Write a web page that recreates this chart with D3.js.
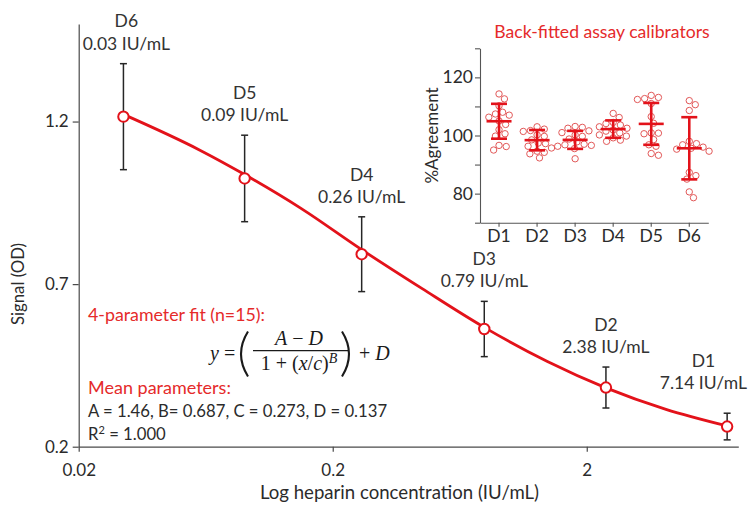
<!DOCTYPE html>
<html>
<head>
<meta charset="utf-8">
<script src="https://cdn.jsdelivr.net/npm/d3@7"></script>
<style>
body { margin: 0; background: #fff; }
svg text { font-family: Lato, "Open Sans", sans-serif; }
.serif { font-family: "Liberation Serif", "DejaVu Serif", serif !important; }
</style>
</head>
<body>
<div id="chart"></div>
<script>
// main calibration curve
var doses = ["D6", "D5", "D4", "D3", "D2", "D1"];
var conc = [0.03, 0.09, 0.26, 0.79, 2.38, 7.14];
var signal = [1.215, 1.025, 0.792, 0.562, 0.382, 0.262];
var signalSd = [0.163, 0.133, 0.115, 0.085, 0.063, 0.041];
var fitConc = [0.03, 0.06, 0.09, 0.15, 0.26, 0.45, 0.79, 1.4, 2.38, 4.1, 7.14];
var fitSignal = [1.222, 1.112, 1.037, 0.933, 0.806, 0.686, 0.567, 0.462, 0.381, 0.315, 0.264];
var xTicks = [0.02, 0.2, 2];
var yTicks = [0.2, 0.7, 1.2];

// inset: back-fitted calibrators, % agreement (n=15 each)
var calibrators = ["D1", "D2", "D3", "D4", "D5", "D6"];
var agreeD1 = [114.3, 112.6, 110.2, 108.0, 107.4, 107.0, 106.3, 105.0, 103.8, 102.0, 100.6, 99.8, 96.6, 96.2, 95.0];
var agreeD2 = [103.0, 102.2, 101.7, 101.4, 100.2, 99.7, 98.5, 97.4, 97.2, 96.3, 95.7, 94.6, 94.2, 93.7, 92.3];
var agreeD3 = [103.1, 102.8, 102.5, 101.6, 101.0, 100.2, 99.7, 98.8, 97.8, 97.0, 96.8, 96.6, 96.3, 95.5, 92.0];
var agreeD4 = [107.6, 106.2, 104.5, 104.1, 103.6, 103.0, 102.5, 101.9, 101.5, 100.9, 100.2, 99.8, 99.2, 98.4, 98.0];
var agreeD5 = [113.8, 113.1, 112.7, 112.4, 111.0, 106.5, 104.2, 100.9, 100.8, 100.6, 98.6, 96.8, 96.3, 93.8, 93.2];
var agreeD6 = [112.0, 110.6, 108.6, 98.0, 97.2, 96.8, 96.0, 95.6, 95.3, 94.6, 87.3, 86.2, 85.0, 80.6, 78.6];
var agreeMean = [104.9, 98.4, 98.5, 102.2, 104.0, 95.6];
var agreeSd = [6.0, 3.5, 3.1, 3.0, 7.2, 10.7];
var agreeTicks = [70, 80, 90, 100, 110, 120, 130];
var agreeLabels = [80, 100, 120];

var W = 749, H = 506;
var red = "#e3121a", textRed = "#e52a2a", ink = "#2b2b2b";

var svg = d3.select("#chart").append("svg")
	.attr("width", W)
	.attr("height", H);

// ---- main chart ----
var x = d3.scaleLog().domain([0.02, 7.9]).range([78.7, 738.3]);
var y = d3.scaleLinear().domain([0.2, 1.5]).range([446.7, 24]);

var gx = svg.append("g")
	.attr("transform", "translate(0," + y(0.2) + ")")
	.call(d3.axisBottom(x).tickValues(xTicks).tickFormat(function(d){ return d; })
		.tickSize(5).tickSizeOuter(0).tickPadding(12));
var gy = svg.append("g")
	.attr("transform", "translate(" + x(0.02) + ",0)")
	.call(d3.axisLeft(y).tickValues(yTicks).tickFormat(d3.format(".1f"))
		.tickSize(6).tickSizeOuter(0).tickPadding(4));
[gx, gy].forEach(function(g){
	g.selectAll("path, line").attr("stroke", "#4a4a4a").attr("stroke-width", 1.2);
	g.selectAll("text").attr("font-size", 17).attr("fill", ink).attr("font-family", "Lato");
});

svg.append("text")
	.attr("x", 399.5).attr("y", 499)
	.attr("text-anchor", "middle")
	.attr("font-size", 18.6).attr("fill", ink)
	.text("Log heparin concentration (IU/mL)");
svg.append("text")
	.attr("transform", "translate(24,284) rotate(-90)")
	.attr("text-anchor", "middle")
	.attr("font-size", 16.8).attr("fill", ink)
	.text("Signal (OD)");

// error bars
var pts = doses.map(function(d, i){
	return { name: d, c: conc[i], s: signal[i], sd: signalSd[i] };
});
var bars = svg.append("g").attr("stroke", "#262626").attr("stroke-width", 1.5);
pts.forEach(function(p){
	var cx = x(p.c);
	bars.append("line").attr("x1", cx).attr("x2", cx).attr("y1", y(p.s + p.sd)).attr("y2", y(p.s - p.sd));
	[p.s + p.sd, p.s - p.sd].forEach(function(v){
		bars.append("line").attr("x1", cx - 3.5).attr("x2", cx + 3.5).attr("y1", y(v)).attr("y2", y(v));
	});
});

// fitted curve
var fit = fitConc.map(function(c, i){ return [c, fitSignal[i]]; });
svg.append("path")
	.datum(fit)
	.attr("fill", "none")
	.attr("stroke", red)
	.attr("stroke-width", 2.8)
	.attr("d", d3.line().x(function(d){ return x(d[0]); }).y(function(d){ return y(d[1]); }).curve(d3.curveMonotoneX));

svg.selectAll(".pt")
	.data(pts)
	.enter().append("circle")
	.attr("class", "pt")
	.attr("cx", function(d){ return x(d.c); })
	.attr("cy", function(d){ return y(d.s); })
	.attr("r", 5.2)
	.attr("fill", "#fff")
	.attr("stroke", red)
	.attr("stroke-width", 2);

// dose labels above each error bar
pts.forEach(function(p){
	var lbl = svg.append("text")
		.attr("text-anchor", "middle")
		.attr("font-size", 17.5)
		.attr("fill", "#333");
	var l1 = lbl.append("tspan").text(p.name);
	var l2 = lbl.append("tspan").text(p.c + " IU/mL");
	var w = l2.node().getComputedTextLength();
	var cx = x(p.c);
	var lift = 14;
	if (cx - w / 2 < x(0.02) + 4) cx = x(0.02) + 4 + w / 2;
	if (cx + w / 2 > W - 2) { cx = W - 2 - w / 2; lift = 24; }
	var base = y(p.s + p.sd) - lift;
	l1.attr("x", cx).attr("y", base - 22.3);
	l2.attr("x", cx).attr("y", base);
});

// fit annotation
svg.append("text").attr("x", 88).attr("y", 321).attr("font-size", 17.8).attr("fill", textRed)
	.text("4-parameter fit (n=15):");
svg.append("text").attr("x", 88).attr("y", 394.3).attr("font-size", 18).attr("fill", textRed)
	.text("Mean parameters:");
svg.append("text").attr("x", 88).attr("y", 416.7).attr("font-size", 16.7).attr("fill", ink)
	.text("A = 1.46, B= 0.687, C = 0.273, D = 0.137");
var r2 = svg.append("text").attr("x", 88).attr("y", 440).attr("font-size", 16.7).attr("fill", ink);
r2.append("tspan").text("R");
r2.append("tspan").attr("font-size", 11).attr("dy", -6).text("2");
r2.append("tspan").attr("dy", 6).text(" = 1.000");

// formula y = ((A - D) / (1 + (x/c)^B)) + D
var fm = svg.append("g").attr("fill", "#1a1a1a");
var t1 = fm.append("text").attr("class", "serif").attr("x", 210).attr("y", 360).attr("font-size", 20);
t1.append("tspan").attr("font-style", "italic").text("y");
t1.append("tspan").text(" =");
var num = fm.append("text").attr("class", "serif").attr("x", 299).attr("y", 345).attr("font-size", 20).attr("text-anchor", "middle");
num.append("tspan").attr("font-style", "italic").text("A");
num.append("tspan").text(" \u2212 ");
num.append("tspan").attr("font-style", "italic").text("D");
fm.append("line").attr("x1", 253).attr("x2", 348).attr("y1", 350.7).attr("y2", 350.7)
	.attr("stroke", "#1a1a1a").attr("stroke-width", 1.2);
var den = fm.append("text").attr("class", "serif").attr("x", 299).attr("y", 370).attr("font-size", 20).attr("text-anchor", "middle");
den.append("tspan").text("1 + (");
den.append("tspan").attr("font-style", "italic").text("x");
den.append("tspan").text("/");
den.append("tspan").attr("font-style", "italic").text("c");
den.append("tspan").text(")");
den.append("tspan").attr("font-style", "italic").attr("font-size", 14).attr("dy", -7).text("B");
fm.append("path").attr("d", "M248,331.5 Q234,354 248,376.5").attr("fill", "none").attr("stroke", "#1a1a1a").attr("stroke-width", 2.1);
fm.append("path").attr("d", "M342,331.5 Q356,354 342,376.5").attr("fill", "none").attr("stroke", "#1a1a1a").attr("stroke-width", 2.1);
var t2 = fm.append("text").attr("class", "serif").attr("x", 359).attr("y", 360).attr("font-size", 20);
t2.append("tspan").text("+ ");
t2.append("tspan").attr("font-style", "italic").text("D");

// ---- inset ----
var ix = d3.scaleBand().domain(calibrators).range([480, 708.3]);
var iy = d3.scaleLinear().domain([70, 130]).range([222.7, 48.3]);

var igx = svg.append("g")
	.attr("transform", "translate(0," + iy(70) + ")")
	.call(d3.axisBottom(ix).tickSize(4).tickSizeOuter(0).tickPadding(3));
var igy = svg.append("g")
	.attr("transform", "translate(" + ix.range()[0] + ",0)")
	.call(d3.axisLeft(iy).tickValues(agreeTicks)
		.tickFormat(function(d){ return agreeLabels.indexOf(d) >= 0 ? d : ""; })
		.tickSize(5).tickSizeOuter(0).tickPadding(2));
[igx, igy].forEach(function(g){
	g.selectAll("path, line").attr("stroke", "#555").attr("stroke-width", 1.1);
	g.selectAll("text").attr("font-size", 17.5).attr("fill", ink).attr("font-family", "Lato");
});

svg.append("text")
	.attr("x", 602).attr("y", 37.7)
	.attr("text-anchor", "middle")
	.attr("font-size", 17.6).attr("fill", textRed)
	.text("Back-fitted assay calibrators");
svg.append("text")
	.attr("transform", "translate(438,135.5) rotate(-90)")
	.attr("text-anchor", "middle")
	.attr("font-size", 17).attr("fill", ink)
	.text("%Agreement");

// simple swarm so the circles of one group do not overlap
function swarm(values, r, gap) {
	var placed = [];
	var order = values.map(function(v, i){ return i; })
		.sort(function(a, b){ return values[b] - values[a]; });
	var out = [];
	var lim = (2 * r + gap) * (2 * r + gap);
	order.forEach(function(i){
		var py = iy(values[i]);
		for (var k = 0; k < 120; k++) {
			var dx = (k % 2 ? 1 : -1) * Math.ceil(k / 2) * 0.6;
			var hit = placed.some(function(q){
				return (q[0] - dx) * (q[0] - dx) + (q[1] - py) * (q[1] - py) < lim;
			});
			if (!hit) { placed.push([dx, py]); out.push({ dx: dx, y: py }); break; }
		}
	});
	return out;
}

var groups = [agreeD1, agreeD2, agreeD3, agreeD4, agreeD5, agreeD6];
groups.forEach(function(vals, gi){
	var cx = ix(calibrators[gi]) + ix.bandwidth() / 2;
	var g = svg.append("g");
	g.selectAll("circle")
		.data(swarm(vals, 3.2, 0.7))
		.enter().append("circle")
		.attr("cx", function(d){ return cx + d.dx; })
		.attr("cy", function(d){ return d.y; })
		.attr("r", 3.2)
		.attr("fill", "none")
		.attr("stroke", "#e25858")
		.attr("stroke-width", 1);

	var m = agreeMean[gi], s = agreeSd[gi];
	var sb = g.append("g").attr("stroke", red).attr("stroke-width", 2.6);
	sb.append("line").attr("x1", cx).attr("x2", cx).attr("y1", iy(m + s)).attr("y2", iy(m - s));
	sb.append("line").attr("x1", cx - 12.5).attr("x2", cx + 12.5).attr("y1", iy(m)).attr("y2", iy(m));
	[m + s, m - s].forEach(function(v){
		sb.append("line").attr("x1", cx - 8).attr("x2", cx + 8).attr("y1", iy(v)).attr("y2", iy(v));
	});
});
</script>
</body>
</html>
